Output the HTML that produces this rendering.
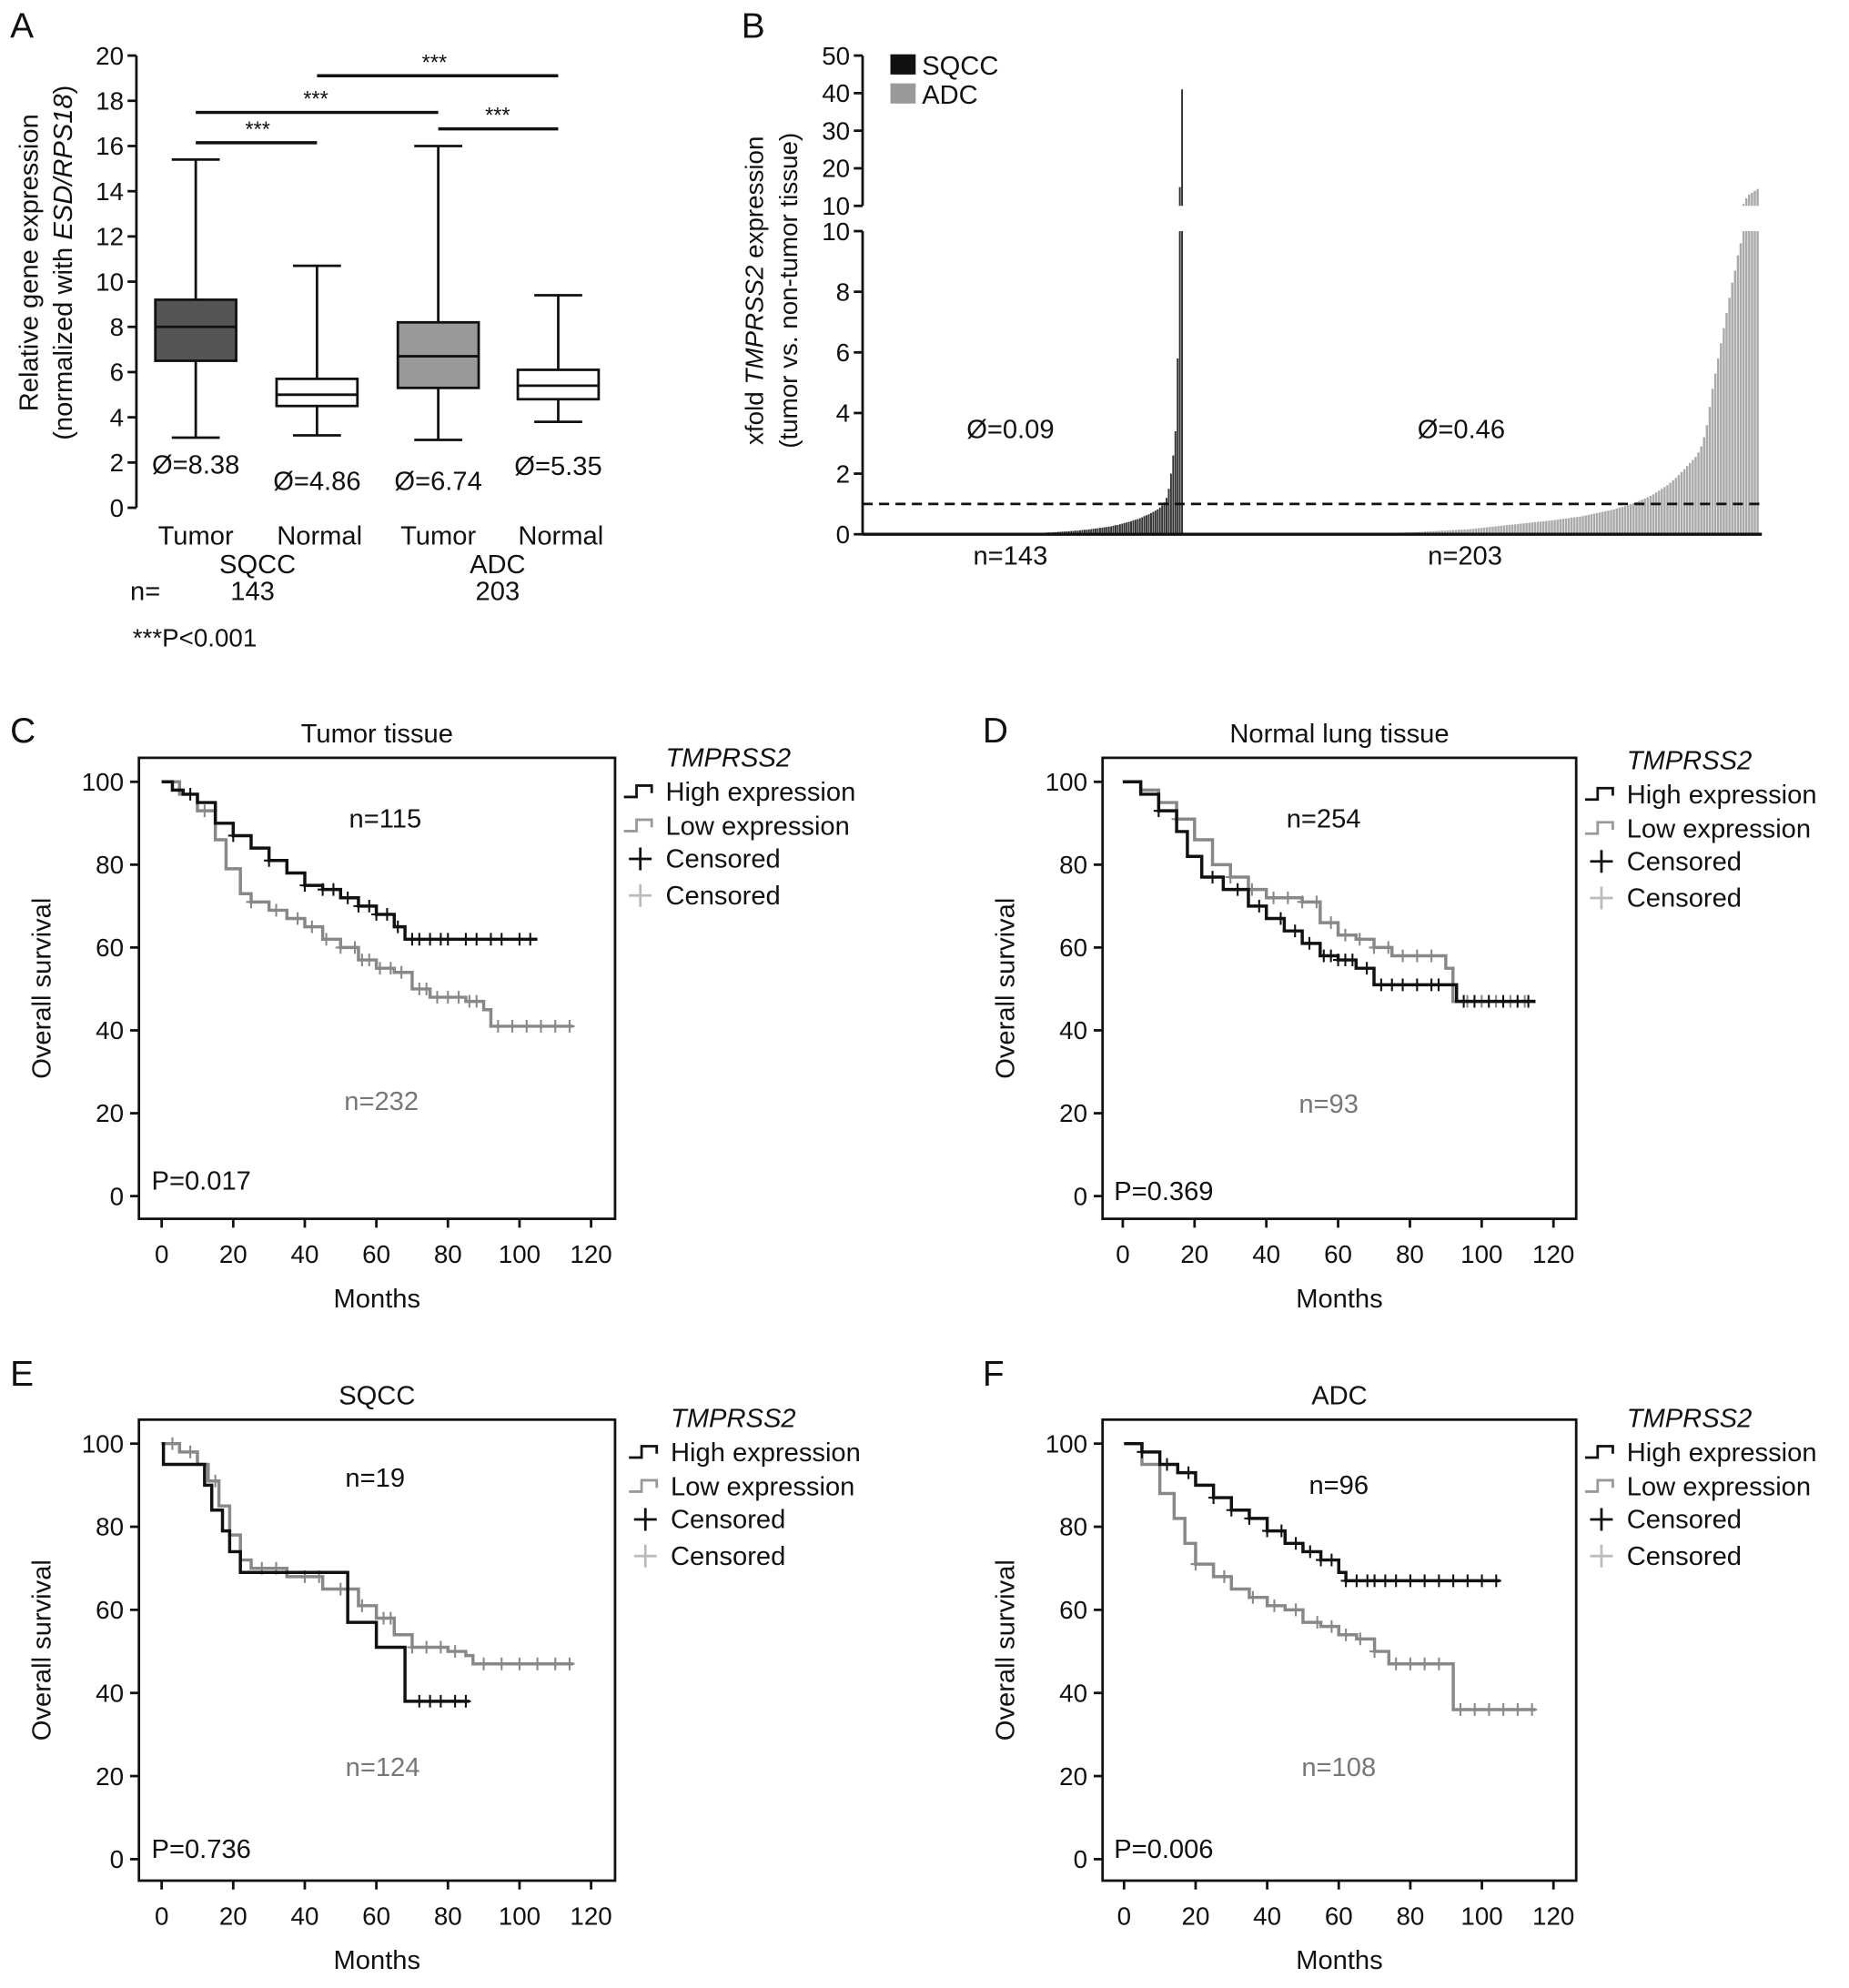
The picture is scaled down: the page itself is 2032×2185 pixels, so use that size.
<!DOCTYPE html>
<html><head><meta charset="utf-8">
<style>
html,body{margin:0;padding:0;background:#fff;}
svg{display:block;font-family:"Liberation Sans",Arial,sans-serif;}
</style></head>
<body>
<svg id="fig" width="2032" height="2185" viewBox="0 0 1464 1574" preserveAspectRatio="none" xmlns="http://www.w3.org/2000/svg">
<rect width="1464" height="1574" fill="#fff"/>
</svg>
<script>
// ===== Panel A data =====
const boxCats = ["SQCC Tumor","SQCC Normal","ADC Tumor","ADC Normal"];
const boxMin = [3.1,3.2,3.0,3.8];
const boxQ1 = [6.5,4.5,5.3,4.8];
const boxMed = [8.0,5.0,6.7,5.4];
const boxQ3 = [9.2,5.7,8.2,6.1];
const boxMax = [15.4,10.7,16.0,9.4];
const boxMeans = ["Ø=8.38","Ø=4.86","Ø=6.74","Ø=5.35"];
const aTicks = [0,2,4,6,8,10,12,14,16,18,20];
// ===== Panel B data =====
const sqccVals = [
0.01,0.01,0.01,0.01,0.01,0.01,0.01,0.01,0.01,0.01,
0.01,0.01,0.01,0.01,0.01,0.01,0.01,0.01,0.01,0.01,
0.01,0.01,0.01,0.01,0.01,0.01,0.01,0.01,0.01,0.01,
0.01,0.01,0.01,0.01,0.01,0.01,0.01,0.01,0.01,0.01,
0.01,0.01,0.01,0.01,0.01,0.01,0.01,0.01,0.01,0.01,
0.01,0.01,0.01,0.01,0.01,0.01,0.01,0.01,0.01,0.01,
0.02,0.02,0.02,0.02,0.02,0.02,0.02,0.02,0.02,0.02,
0.03,0.03,0.03,0.03,0.04,0.04,0.04,0.04,0.05,0.05,
0.05,0.06,0.06,0.06,0.07,0.07,0.08,0.08,0.09,0.09,
0.1,0.1,0.11,0.11,0.12,0.12,0.13,0.14,0.15,0.15,
0.16,0.17,0.18,0.19,0.2,0.21,0.22,0.23,0.24,0.25,
0.26,0.28,0.3,0.31,0.33,0.35,0.37,0.39,0.41,0.43,
0.46,0.48,0.5,0.53,0.56,0.6,0.63,0.66,0.7,0.74,
0.78,0.82,0.88,0.95,1.05,1.2,1.5,2.0,2.6,3.4,
5.8,15,41];
const adcVals = [
0.01,0.01,0.01,0.01,0.01,0.01,0.01,0.01,0.01,0.01,
0.01,0.01,0.01,0.01,0.01,0.01,0.01,0.01,0.01,0.01,
0.01,0.01,0.01,0.01,0.01,0.01,0.01,0.01,0.01,0.01,
0.01,0.01,0.01,0.01,0.01,0.01,0.01,0.01,0.01,0.01,
0.01,0.01,0.01,0.01,0.01,0.01,0.01,0.01,0.01,0.01,
0.01,0.01,0.01,0.01,0.01,0.01,0.01,0.01,0.01,0.01,
0.02,0.02,0.02,0.02,0.02,0.03,0.03,0.03,0.03,0.03,
0.04,0.04,0.04,0.04,0.05,0.05,0.05,0.06,0.06,0.06,
0.07,0.07,0.08,0.08,0.09,0.09,0.1,0.1,0.11,0.11,
0.12,0.12,0.13,0.13,0.14,0.14,0.15,0.15,0.16,0.16,
0.17,0.18,0.19,0.2,0.21,0.22,0.23,0.24,0.25,0.26,
0.27,0.28,0.29,0.3,0.31,0.32,0.33,0.34,0.35,0.36,
0.37,0.38,0.39,0.4,0.41,0.42,0.43,0.44,0.45,0.46,
0.47,0.48,0.5,0.51,0.52,0.53,0.55,0.56,0.57,0.58,
0.6,0.62,0.64,0.66,0.68,0.7,0.72,0.74,0.76,0.78,
0.8,0.82,0.85,0.88,0.9,0.93,0.96,1.0,1.03,1.06,
1.1,1.14,1.18,1.22,1.27,1.32,1.38,1.44,1.5,1.56,
1.62,1.7,1.78,1.86,1.95,2.05,2.15,2.25,2.35,2.45,
2.55,2.7,2.9,3.2,3.6,4.2,4.8,5.3,5.8,6.3,
6.8,7.3,7.8,8.3,8.7,9.2,9.6,10.5,12,13,
13.5,14,14.5];
const bLowTicks = [0,2,4,6,8,10];
const bHighTicks = [10,20,30,40,50];
// ===== KM data =====
const cHighM=[0,3,6,10,15,20,25,30,35,40,45,50,55,60,65,68,105];
const cHighS=[100,98,97,95,90,87,84,81,78,75,74,72,70,68,65,62,62];
const cLowM=[0,5,10,15,18,22,25,30,35,40,45,50,55,60,65,70,75,85,90,92,115];
const cLowS=[100,97,93,86,79,73,71,69,67,65,62,60,57,55,54,50,48,47,45,41,41];
const cHighCens=[8,20,30,40,45,48,52,55,58,60,63,66,70,72,75,78,80,85,88,92,95,100,103];
const cLowCens=[12,25,32,38,42,46,50,54,56,58,61,64,67,72,74,77,80,83,86,88,94,98,102,106,110,114];
const dHighM=[0,5,10,15,18,22,28,35,40,45,50,55,60,65,70,92,93,115];
const dHighS=[100,97,93,88,82,77,74,70,67,64,61,58,57,55,51,51,47,47];
const dLowM=[0,5,10,15,20,25,30,35,40,50,55,60,65,70,75,85,90,92,115];
const dLowS=[100,98,95,91,86,80,77,74,72,71,66,63,62,60,58,58,55,47,47];
const dHighCens=[10,25,32,38,44,48,52,56,58,60,62,64,68,72,75,78,82,86,88,95,98,102,106,110,113];
const dLowCens=[15,30,36,42,46,50,54,58,62,66,70,74,78,82,86,96,100,104,108,112];
const eHighM=[0,0.5,10,12,14,17,19,22,48,52,60,68,86];
const eHighS=[100,95,95,90,84,79,74,69,69,57,51,38,38];
const eLowM=[0,5,10,13,16,19,22,25,35,45,55,60,65,70,80,85,87,115];
const eLowS=[100,98,95,91,85,78,72,70,68,65,61,58,54,51,50,49,47,47];
const eHighCens=[72,75,78,82,85];
const eLowCens=[3,8,15,28,32,40,44,50,56,62,64,70,74,78,82,90,95,100,105,110,114];
const fHighM=[0,5,10,15,20,25,30,35,40,45,50,55,60,62,105];
const fHighS=[100,98,95,93,90,87,84,82,79,76,74,72,69,67,67];
const fLowM=[0,5,10,14,17,20,25,30,35,40,45,50,55,60,65,70,74,90,92,115];
const fLowS=[100,95,88,82,76,71,68,65,63,61,60,57,56,54,53,50,47,47,36,36];
const fHighCens=[5,12,18,25,30,35,40,44,48,52,55,58,62,65,68,70,73,76,80,84,88,92,96,100,104];
const fLowCens=[20,28,36,42,48,54,58,62,66,70,76,80,84,88,94,98,102,106,110,114];
const kmXTicks=[0,20,40,60,80,100,120];
const kmYTicks=[0,20,40,60,80,100];

const NS="http://www.w3.org/2000/svg";
const svg=document.getElementById('fig');
function mk(tag,attrs,parent){const e=document.createElementNS(NS,tag);for(const k in attrs)e.setAttribute(k,attrs[k]);(parent||svg).appendChild(e);return e;}
function txt(s,x,y,size,anchor,parent,fill){const t=mk('text',{x:x,y:y,'font-size':size,'text-anchor':anchor||'middle',fill:fill||'#111'},parent);t.textContent=s;return t;}

[["A",8,30],["B",587,30],["C",8,588],["D",778,588],["E",8,1097],["F",778,1097]].forEach(p=>{
 const t=txt(p[0],p[1],p[2],28,'start');
 
 
});

// ===== Panel A =====
(function(){
 const g=mk('g',{});
 
 
 const y0=402,y1=44,vmax=20;
 const ys=v=>y0-(v/vmax)*(y0-y1);
 const ax=108;
 const axis=mk('line',{x1:ax,y1:y1,x2:ax,y2:y0,stroke:'#111','stroke-width':2},g);
 
 
 aTicks.forEach(v=>{
  mk('line',{x1:ax-7,y1:ys(v),x2:ax,y2:ys(v),stroke:'#111','stroke-width':2},g);
  const t=txt(String(v),ax-10,ys(v)+7,20,'end',g);
  
  
 });
 const yl=mk('text',{transform:'translate(30,208) rotate(-90)','font-size':21,'text-anchor':'middle',fill:'#111'},g);
 yl.textContent='Relative gene expression';
 
 
 const yl2=mk('text',{transform:'translate(57,208) rotate(-90)','font-size':21,'text-anchor':'middle',fill:'#111'},g);
 yl2.innerHTML='(normalized with <tspan font-style="italic">ESD/RPS18</tspan>)';
 
 
 const cx=[155,251,347,442];
 const fills=['#555','#fff','#999','#fff'];
 const meanY=[375,388,388,376];
 boxCats.forEach((c,i)=>{
  const bg=mk('g',{},g);
  
  
  const w=64,cw=38,x=cx[i];
  mk('line',{x1:x,y1:ys(boxMin[i]),x2:x,y2:ys(boxMax[i]),stroke:'#111','stroke-width':2},bg);
  mk('line',{x1:x-cw/2,y1:ys(boxMin[i]),x2:x+cw/2,y2:ys(boxMin[i]),stroke:'#111','stroke-width':2},bg);
  mk('line',{x1:x-cw/2,y1:ys(boxMax[i]),x2:x+cw/2,y2:ys(boxMax[i]),stroke:'#111','stroke-width':2},bg);
  mk('rect',{x:x-w/2,y:ys(boxQ3[i]),width:w,height:ys(boxQ1[i])-ys(boxQ3[i]),fill:fills[i],stroke:'#111','stroke-width':2},bg);
  mk('line',{x1:x-w/2,y1:ys(boxMed[i]),x2:x+w/2,y2:ys(boxMed[i]),stroke:'#111','stroke-width':2},bg);
  const m=txt(boxMeans[i],x,meanY[i],21,'middle',g);
  
  
  const xl=txt(i%2?'Normal':'Tumor',x+(i%2?2:0),431,21,'middle',g);
  
  
 });
 [[155,251,113,204],[155,347,89,250],[251,442,60,344],[347,442,102,394]].forEach(s=>{
  const sg=mk('g',{},g);
  
  
  mk('line',{x1:s[0],y1:s[2],x2:s[1],y2:s[2],stroke:'#111','stroke-width':2.5},sg);
  txt('***',s[3],s[2]-5,17,'middle',sg);
 });
 [['SQCC',204,454],['ADC',394,454],['n=',115,475],['143',200,475],['203',394,475]].forEach(a=>{
  const t=txt(a[0],a[1],a[2],21,'middle',g);
  
  
 });
 const p=txt('***P<0.001',105,512,20,'start',g);
 
 
})();

// ===== Panel B =====
(function(){
 const g=mk('g',{});
 
 
 const ax=683,yb=423,yBreakLo=183,yBreakHi=163,yTop=44;
 const ysLow=v=>yb-(v/10)*(yb-yBreakLo);
 const ysHigh=v=>yBreakHi-((v-10)/40)*(yBreakHi-yTop);
 const ys=v=>v<=10?ysLow(v):ysHigh(v);
 const drawBars=(arr,xa,xb,color,name)=>{
  const bw=(xb-xa)/arr.length;
  const bgp=mk('g',{},g);
  
  
  arr.forEach((v,i)=>{
   const x=xa+i*bw;
   if(v<=10){
    mk('rect',{x:x,y:ys(v),width:bw*0.8,height:yb-ys(v),fill:color},bgp);
   }else{
    mk('rect',{x:x,y:yBreakLo,width:bw*0.8,height:yb-yBreakLo,fill:color},bgp);
    mk('rect',{x:x,y:ys(v),width:bw*0.8,height:yBreakHi-ys(v),fill:color},bgp);
   }
  });
 };
 drawBars(sqccVals,686,937,'#333','sqcc-bars');
 drawBars(adcVals,940,1393,'#aaa','adc-bars');
 const a1=mk('line',{x1:ax,y1:yTop,x2:ax,y2:yBreakHi,stroke:'#111','stroke-width':2},g);
 
 
 const a2=mk('line',{x1:ax,y1:yBreakLo,x2:ax,y2:yb,stroke:'#111','stroke-width':2},g);
 
 
 const xa=mk('line',{x1:ax,y1:yb,x2:1395,y2:yb,stroke:'#111','stroke-width':2.5},g);
 
 
 bLowTicks.forEach(v=>{
  mk('line',{x1:ax-7,y1:ysLow(v),x2:ax,y2:ysLow(v),stroke:'#111','stroke-width':2},g);
  const t=txt(String(v),ax-10,ysLow(v)+7,20,'end',g);
  
  
 });
 bHighTicks.forEach(v=>{
  mk('line',{x1:ax-7,y1:ysHigh(v),x2:ax,y2:ysHigh(v),stroke:'#111','stroke-width':2},g);
  const t=txt(String(v),ax-10,ysHigh(v)+7,20,'end',g);
  
  
 });
 const dl=mk('line',{x1:ax,y1:ysLow(1),x2:1393,y2:ysLow(1),stroke:'#111','stroke-width':2,'stroke-dasharray':'8,5'},g);
 
 
 const yl=mk('text',{transform:'translate(604,230) rotate(-90)','font-size':20,'text-anchor':'middle',fill:'#111'},g);
 yl.innerHTML='xfold <tspan font-style="italic">TMPRSS2</tspan> expression';
 
 
 const yl2=mk('text',{transform:'translate(631,230) rotate(-90)','font-size':20,'text-anchor':'middle',fill:'#111'},g);
 yl2.textContent='(tumor vs. non-tumor tissue)';
 
 
 const l1=mk('g',{},g);
 
 
 mk('rect',{x:705,y:43,width:20,height:16,fill:'#111'},l1);
 txt('SQCC',730,59,21,'start',l1);
 const l2=mk('g',{},g);
 
 
 mk('rect',{x:705,y:66,width:20,height:16,fill:'#999'},l2);
 txt('ADC',730,82,21,'start',l2);
 [['Ø=0.09',800,347],['Ø=0.46',1157,347],['n=143',800,447],['n=203',1160,447]].forEach(a=>{
  const t=txt(a[0],a[1],a[2],21,'middle',g);
  
  
 });
})();

// ===== KM panels =====
function km(cfg){
 const g=mk('g',{});
 
 
 const xs=m=>cfg.x0+m*(cfg.x120-cfg.x0)/120;
 const ys=s=>cfg.y0-s*(cfg.y0-cfg.y100)/100;
 const fr=mk('rect',{x:cfg.fx0,y:cfg.fy0,width:cfg.fx1-cfg.fx0,height:cfg.fy1-cfg.fy0,fill:'none',stroke:'#111','stroke-width':2},g);
 
 
 kmXTicks.forEach(v=>{
  mk('line',{x1:xs(v),y1:cfg.fy1,x2:xs(v),y2:cfg.fy1+7,stroke:'#111','stroke-width':2},g);
  const t=txt(String(v),xs(v),cfg.fy1+35,20,'middle',g);
  
  
 });
 kmYTicks.forEach(v=>{
  mk('line',{x1:cfg.fx0-7,y1:ys(v),x2:cfg.fx0,y2:ys(v),stroke:'#111','stroke-width':2},g);
  const t=txt(String(v),cfg.fx0-12,ys(v)+7,20,'end',g);
  
  
 });
 const xt=txt('Months',(cfg.fx0+cfg.fx1)/2,cfg.fy1+70,21,'middle',g);
 
 
 const yt=mk('text',{transform:`translate(${cfg.fx0-70},${(cfg.fy0+cfg.fy1)/2}) rotate(-90)`,'font-size':21,'text-anchor':'middle',fill:'#111'},g);
 yt.textContent='Overall survival';
 
 
 const tt=txt(cfg.title,(cfg.fx0+cfg.fx1)/2,cfg.fy0-12,21,'middle',g);
 
 
 const stepAt=(M,S,m)=>{let s=S[0];for(let i=0;i<M.length;i++){if(M[i]<=m)s=S[i];}return s;};
 const curve=(M,S,cens,color,name)=>{
  let d='M'+xs(M[0])+','+ys(S[0]);
  for(let i=1;i<M.length;i++){d+=' H'+xs(M[i])+' V'+ys(S[i]);}
  const p=mk('path',{d:d,fill:'none',stroke:color,'stroke-width':2.5},g);
  
  
  const cg=mk('g',{},g);
  
  
  cens.forEach(m=>{
   const x=xs(m),y=ys(stepAt(M,S,m));
   mk('path',{d:`M${x},${y-5}V${y+5}M${x-4},${y}H${x+4}`,stroke:color,'stroke-width':1.5},cg);
  });
 };
 curve(cfg.lowM,cfg.lowS,cfg.lowC,'#888','low-expression-curve');
 curve(cfg.highM,cfg.highS,cfg.highC,'#111','high-expression-curve');
 const n1=txt(cfg.nHigh[0],cfg.nHigh[1],cfg.nHigh[2],21,'middle',g);
 
 
 const n2=txt(cfg.nLow[0],cfg.nLow[1],cfg.nLow[2],21,'middle',g,'#777');
 
 
 const pv=txt(cfg.p[0],cfg.p[1],cfg.p[2],21,'start',g);
 
 
 const lg=mk('g',{},g);
 
 
 const lx=cfg.lx,ly=cfg.ly;
 const lt=txt('TMPRSS2',lx+35,ly,21,'start',lg);
 lt.setAttribute('font-style','italic');
 const items=[['High expression','#111','step',27],['Low expression','#999','step',54],['Censored','#111','plus',80],['Censored','#bbb','plus',109]];
 items.forEach(it=>{
  const eg=mk('g',{},lg);
  
  
  const y=ly+it[3];
  if(it[2]==='step')mk('path',{d:`M${lx+2},${y-3}H${lx+12}V${y-12}H${lx+24}V${y-6}`,fill:'none',stroke:it[1],'stroke-width':2},eg);
  else mk('path',{d:`M${lx+15},${y-16}V${y+2}M${lx+6},${y-7}H${lx+24}`,fill:'none',stroke:it[1],'stroke-width':2},eg);
  txt(it[0],lx+35,y,21,'start',eg);
 });
}
km({name:'panel-c-km-tumor',title:'Tumor tissue',fx0:110,fx1:487,fy0:600,fy1:965,x0:128,x120:468,y0:947,y100:619,
 highM:cHighM,highS:cHighS,highC:cHighCens,lowM:cLowM,lowS:cLowS,lowC:cLowCens,
 nHigh:['n=115',305,655],nLow:['n=232',302,879],p:['P=0.017',120,942],lx:492,ly:607});
km({name:'panel-d-km-normal',title:'Normal lung tissue',fx0:873,fx1:1248,fy0:600,fy1:965,x0:889,x120:1230,y0:947,y100:619,
 highM:dHighM,highS:dHighS,highC:dHighCens,lowM:dLowM,lowS:dLowS,lowC:dLowCens,
 nHigh:['n=254',1048,655],nLow:['n=93',1052,881],p:['P=0.369',882,950],lx:1253,ly:609});
km({name:'panel-e-km-sqcc',title:'SQCC',fx0:110,fx1:487,fy0:1124,fy1:1489,x0:128,x120:468,y0:1472,y100:1143,
 highM:eHighM,highS:eHighS,highC:eHighCens,lowM:eLowM,lowS:eLowS,lowC:eLowCens,
 nHigh:['n=19',297,1177],nLow:['n=124',303,1406],p:['P=0.736',120,1471],lx:496,ly:1130});
km({name:'panel-f-km-adc',title:'ADC',fx0:873,fx1:1248,fy0:1124,fy1:1489,x0:890,x120:1230,y0:1472,y100:1143,
 highM:fHighM,highS:fHighS,highC:fHighCens,lowM:fLowM,lowS:fLowS,lowC:fLowCens,
 nHigh:['n=96',1060,1183],nLow:['n=108',1060,1406],p:['P=0.006',882,1471],lx:1253,ly:1130});
</script>
</body></html>
